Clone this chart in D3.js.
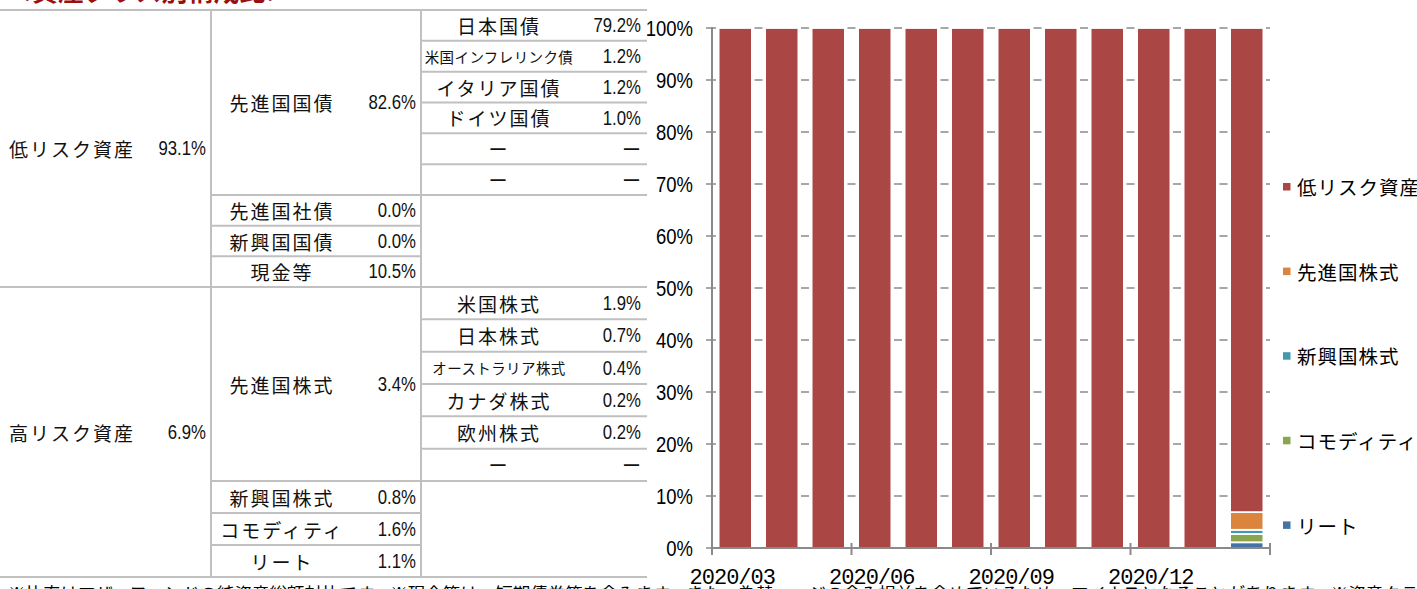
<!DOCTYPE html>
<html><head><meta charset="utf-8">
<script src="https://cdn.jsdelivr.net/npm/d3@7/dist/d3.min.js"></script>
<style>
html,body{margin:0;padding:0;background:#fff;overflow:hidden;}
svg{display:block;}
</style></head>
<body>
<script>
// ---------------- data ----------------
const months = ["2020/03","2020/04","2020/05","2020/06","2020/07","2020/08","2020/09","2020/10","2020/11","2020/12","2021/01","2021/02"];
const xTickLabels = ["2020/03","2020/06","2020/09","2020/12"];
const yTicks = [0,10,20,30,40,50,60,70,80,90,100];
const seriesNames = ["低リスク資産","先進国株式","新興国株式","コモディティ","リート"];
const lowRisk   = [100,100,100,100,100,100,100,100,100,100,100,93.1];
const devEquity = [0,0,0,0,0,0,0,0,0,0,0,3.4];
const emEquity  = [0,0,0,0,0,0,0,0,0,0,0,0.8];
const commodity = [0,0,0,0,0,0,0,0,0,0,0,1.6];
const reit      = [0,0,0,0,0,0,0,0,0,0,0,1.1];
const seriesColors = ["#AA4643","#DB843D","#4198AF","#89A54E","#4572A7"];

const title = "＜資産クラス別構成比＞";
const footnote = "※比率はマザーファンドの純資産総額対比です。※現金等は、短期債券等を含みます。また、為替ヘッジの含み損益を含めているため、マイナスとなることがあります。※資産クラス別";

// table
const level1 = [["低リスク資産","93.1%"],["高リスク資産","6.9%"]];
const lowL2  = [["先進国国債","82.6%"],["先進国社債","0.0%"],["新興国国債","0.0%"],["現金等","10.5%"]];
const lowL3  = [["日本国債","79.2%"],["米国インフレリンク債","1.2%"],["イタリア国債","1.2%"],["ドイツ国債","1.0%"],["ー","ー"],["ー","ー"]];
const highL2 = [["先進国株式","3.4%"],["新興国株式","0.8%"],["コモディティ","1.6%"],["リート","1.1%"]];
const highL3 = [["米国株式","1.9%"],["日本株式","0.7%"],["オーストラリア株式","0.4%"],["カナダ株式","0.2%"],["欧州株式","0.2%"],["ー","ー"]];

// ---------------- drawing ----------------
const W = 1417, H = 589;
const svg = d3.select("body").append("svg").attr("width", W).attr("height", H);

const CJK = "'Noto Sans CJK JP','Noto Sans CJK SC',sans-serif";
const NUM = "'Liberation Sans','Arial',sans-serif";

// title (cut at top)
svg.append("text").attr("x", 6).attr("y", 0.5)
  .attr("font-family", CJK).attr("font-weight", "bold").attr("font-size", 26)
  .attr("fill", "#9a0f0f").text(title);

// ----- table -----
const lineColor = "#c0c0c0";
const tX = [0, 211, 421, 647];
const upTop = 10, upMid = 195, upBot = 287;
const loTop = 287, loMid = 481, loBot = 577;
const tbl = svg.append("g");
function hline(y, x1, x2){ tbl.append("line").attr("x1",x1).attr("x2",x2).attr("y1",y).attr("y2",y).attr("stroke",lineColor).attr("stroke-width",2); }
function vline(x, y1, y2){ tbl.append("line").attr("x1",x).attr("x2",x).attr("y1",y1).attr("y2",y2).attr("stroke",lineColor).attr("stroke-width",2); }

function label(x, y, s){
  const small = s.length >= 9;
  tbl.append("text").attr("x", x).attr("y", y)
    .attr("text-anchor", "middle").attr("dominant-baseline", "central")
    .attr("font-family", CJK).attr("font-size", small ? 14.5 : 19)
    .attr("letter-spacing", small ? 0.4 : 2)
    .attr("fill", "#111").text(s);
}
function value(x, y, s){
  if(s === "ー"){
    tbl.append("text").attr("x", x).attr("y", y).attr("text-anchor","end").attr("dominant-baseline","central")
      .attr("font-family", CJK).attr("font-size", 19).attr("fill","#111").text(s);
    return;
  }
  tbl.append("text").attr("transform", `translate(${x},${y+6.8}) scale(0.86,1)`)
    .attr("text-anchor","end")
    .attr("font-family", NUM).attr("font-size", 19.5).attr("fill","#111").text(s);
}

function block(top, mid, bot, l1, l2, l3){
  const h3 = (mid - top) / l3.length;
  l3.forEach((d,i)=>{
    const yc = top + h3*(i+0.5);
    label(499, yc, d[0]);
    value(641, yc, d[1]);
    if(i>0) hline(top + h3*i, tX[2], tX[3]);
  });
  hline(mid, tX[1], tX[3]);
  label(282, (top+mid)/2, l2[0][0]);
  value(416, (top+mid)/2, l2[0][1]);
  const rest = l2.slice(1);
  const h2 = (bot - mid) / rest.length;
  rest.forEach((d,i)=>{
    const yc = mid + h2*(i+0.5);
    label(282, yc, d[0]);
    value(416, yc, d[1]);
    if(i>0) hline(mid + h2*i, tX[1], tX[2]);
  });
  label(72, (top+bot)/2, l1[0]);
  value(206, (top+bot)/2, l1[1]);
}
block(upTop, upMid, upBot, level1[0], lowL2, lowL3);
block(loTop, loMid, loBot, level1[1], highL2, highL3);
hline(upTop, tX[0], tX[3]);
hline(upBot, tX[0], tX[3]);
hline(loBot, tX[0], tX[3]);
vline(tX[1], upTop, loBot);
vline(tX[2], upTop, loBot);

// ----- chart -----
const plotL = 712, plotR = 1270, plotT = 28, plotB = 548;
const x = d3.scaleBand().domain(months).range([plotL, plotR]).paddingInner(0.284).paddingOuter(0.142);
const y = d3.scaleLinear().domain([0,100]).range([plotB, plotT]);
const axisColor = "#8a8a8a";

const chart = svg.append("g");
chart.selectAll("line.grid").data(yTicks).enter().append("line")
  .attr("x1", plotL-6).attr("x2", plotR).attr("y1", d=>y(d)).attr("y2", d=>y(d))
  .attr("stroke", axisColor).attr("stroke-width", 1.6);

// y labels (condensed)
chart.selectAll("text.ylab").data(yTicks).enter().append("text")
  .attr("transform", d=>`translate(693,${y(d)+7.8}) scale(0.84,1)`).attr("text-anchor","end")
  .attr("font-family", NUM).attr("font-size", 22).attr("fill","#000").text(d=>d+"%");

// stacked data
const keys = ["reit","commodity","emEquity","devEquity","lowRisk"];
const keyColor = {lowRisk:seriesColors[0], devEquity:seriesColors[1], emEquity:seriesColors[2], commodity:seriesColors[3], reit:seriesColors[4]};
const rows = months.map((m,i)=>({month:m, lowRisk:lowRisk[i], devEquity:devEquity[i], emEquity:emEquity[i], commodity:commodity[i], reit:reit[i]}));
const stacked = d3.stack().keys(keys)(rows);

chart.selectAll("rect.halo").data(rows).enter().append("rect")
  .attr("x", d=>x(d.month)-2.6).attr("width", x.bandwidth()+5.2)
  .attr("y", y(100)-1.5).attr("height", y(0)-y(100)+1.5).attr("fill","#fff");

stacked.forEach(s=>{
  chart.selectAll(null).data(s.filter(d=>d[1]-d[0]>0)).enter().append("rect")
    .attr("x", d=>x(d.data.month)).attr("width", x.bandwidth())
    .attr("y", d=>y(d[1])).attr("height", d=>y(d[0])-y(d[1]))
    .attr("fill", keyColor[s.key]).attr("stroke","#fff").attr("stroke-width",1.8);
});

chart.append("line").attr("x1",plotL).attr("x2",plotL).attr("y1",plotT-1).attr("y2",plotB)
  .attr("stroke",axisColor).attr("stroke-width",2);
chart.append("line").attr("x1",plotL).attr("x2",plotR).attr("y1",plotB).attr("y2",plotB)
  .attr("stroke",axisColor).attr("stroke-width",2);
const step = x.step();
const tickIdx = [0,3,6,9,12];
chart.selectAll("line.xt").data(tickIdx).enter().append("line")
  .attr("x1", i=> i<months.length ? x(months[i]) - step*x.paddingInner()/2 : plotR)
  .attr("x2", i=> i<months.length ? x(months[i]) - step*x.paddingInner()/2 : plotR)
  .attr("y1", plotB-5).attr("y2", plotB+7).attr("stroke",axisColor).attr("stroke-width",2);
chart.selectAll("text.xl").data(xTickLabels).enter().append("text")
  .attr("x", d=>x(d)+x.bandwidth()/2-3).attr("y", 584).attr("text-anchor","middle")
  .attr("font-family","'Liberation Mono',monospace").attr("font-size",22).attr("letter-spacing",-1)
  .attr("fill","#000").text(d=>d);

// legend
const lg = svg.append("g");
seriesNames.forEach((n,i)=>{
  const yc = 186.7 + i*84.6;
  lg.append("rect").attr("x",1283).attr("y",yc-3.7).attr("width",7.5).attr("height",7.5).attr("fill",seriesColors[i]);
  lg.append("text").attr("x",1297).attr("y",yc).attr("dominant-baseline","central")
    .attr("font-family",CJK).attr("font-size",19.5).attr("letter-spacing",1).attr("fill","#000").text(n);
});

// footnote (cut at bottom)
svg.append("text").attr("x", 8).attr("y", 600)
  .attr("font-family", CJK).attr("font-size", 17.5).attr("fill", "#000").text(footnote);
</script>
</body></html>
